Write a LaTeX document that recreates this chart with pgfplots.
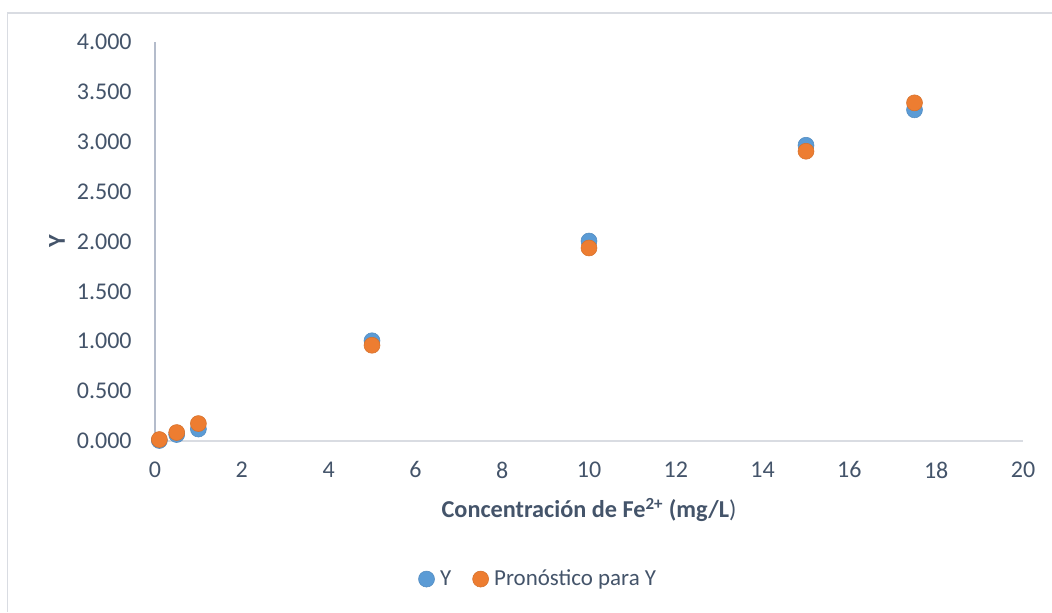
\documentclass[border=0pt]{standalone}
\usepackage{pgfplots}
\pgfplotsset{compat=1.18}
\usepackage{fontspec}
\setmainfont{Carlito}
\definecolor{txt}{RGB}{68,84,106}
\definecolor{cblue}{RGB}{91,155,213}
\definecolor{corange}{RGB}{237,125,49}
\definecolor{bord}{RGB}{217,220,226}
\definecolor{yspine}{RGB}{180,188,203}
\begin{document}
\begin{tikzpicture}
\useasboundingbox (-116.25pt,-128.25pt) rectangle (672.75pt,330.75pt);
\draw[bord, line width=1.2pt] (-110.6pt,-128.25pt) -- (-110.6pt,321pt) -- (672.75pt,321pt);
\begin{axis}[
  scale only axis,
  width=651pt, height=299.25pt,
  xmin=0, xmax=20, ymin=0, ymax=4,
  xtick={0,2,...,20}, ytick={0,0.5,...,4},
  axis x line=bottom, axis y line=left,
  x axis line style={-, bord, line width=1.1pt},
  y axis line style={-, yspine, line width=1.5pt},
  major tick length=0pt,
  clip=false,
  font=\fontsize{18}{21}\selectfont,
  tick label style={txt},
  /pgf/number format/assume math mode=true,
  yticklabel={\pgfmathprintnumber[fixed,fixed zerofill,precision=3]{\tick}},
  xticklabel style={yshift=-12pt},
  yticklabel style={xshift=-14pt},
  xlabel={{\bfseries Concentración de Fe\textsuperscript{2+} (mg/L})},
  ylabel={\bfseries Y},
  xlabel style={at={(axis description cs:0.5,0)}, anchor=center, yshift=-51.75pt, txt, font=\fontsize{18.2}{22}\selectfont},
  ylabel style={at={(axis description cs:-0.113,0.5)}, anchor=center, txt, font=\fontsize{18.2}{22}\selectfont},
  legend style={draw=none, at={(axis description cs:0.442,-0.346)}, anchor=center, legend columns=2, font=\fontsize{17.2}{20}\selectfont, text=txt, /tikz/every even column/.append style={column sep=14pt}},
  legend image code/.code={\draw plot coordinates {(0.25cm,0cm)}; \path (0.25cm,0cm) ++(8pt,0pt);},
]
\addplot[only marks, mark=*, mark size=6pt, color=cblue, mark options={fill=cblue, draw=cblue!90!black}] coordinates {
(0.1,0.005) (0.5,0.065) (1,0.12) (5,1.005) (10,2.005) (15,2.965) (17.5,3.32)
};
\addlegendentry{Y}
\addplot[only marks, mark=*, mark size=6pt, color=corange, mark options={fill=corange, draw=corange!90!black}] coordinates {
(0.1,0.015) (0.5,0.085) (1,0.175) (5,0.96) (10,1.935) (15,2.905) (17.5,3.39)
};
\addlegendentry{Pronóstico para Y}
\end{axis}
\end{tikzpicture}
\end{document}
